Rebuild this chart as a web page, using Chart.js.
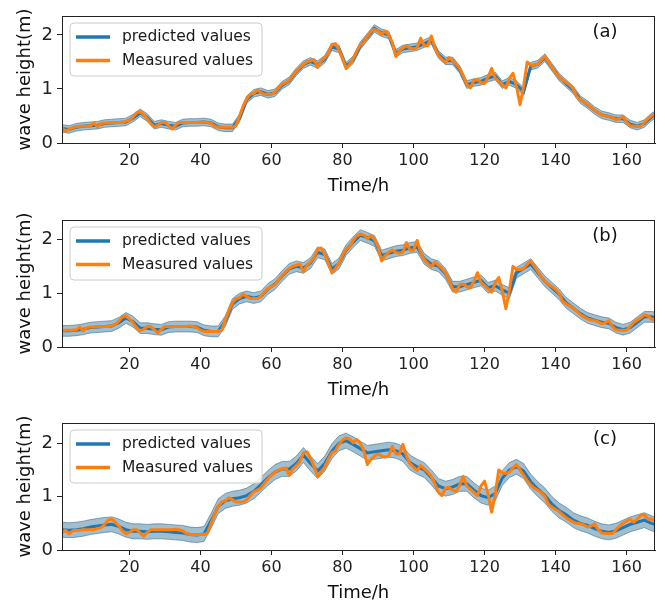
<!DOCTYPE html>
<html><head><meta charset="utf-8">
<script src="https://cdn.jsdelivr.net/npm/chart.js@4.4.1/dist/chart.umd.min.js"></script>
<style>
html,body{margin:0;padding:0;background:#fff;}
#wrap{position:relative;width:665px;height:602px;overflow:hidden;background:#fff;}
canvas{position:absolute;left:0;}
</style></head><body>
<div id="wrap">
<canvas id="cA" width="665" height="200" style="top:0px"></canvas>
<canvas id="cB" width="665" height="200" style="top:204px"></canvas>
<canvas id="cC" width="665" height="200" style="top:407px"></canvas>
</div>
<script>
const seriesLabels = ['predicted values', 'Measured values'];
const panelTags = ['(a)', '(b)', '(c)'];
const xTitle = 'Time/h';
const yTitle = 'wave height(m)';
const xTicks = [20, 40, 60, 80, 100, 120, 140, 160];
const yTicks = [0, 1, 2];

const hours = [1,2,3,4,5,6,7,8,9,10,11,12,13,14,15,16,17,18,19,20,
21,22,23,24,25,26,27,28,29,30,31,32,33,34,35,36,37,38,39,40,
41,42,43,44,45,46,47,48,49,50,51,52,53,54,55,56,57,58,59,60,
61,62,63,64,65,66,67,68,69,70,71,72,73,74,75,76,77,78,79,80,
81,82,83,84,85,86,87,88,89,90,91,92,93,94,95,96,97,98,99,100,
101,102,103,104,105,106,107,108,109,110,111,112,113,114,115,116,117,118,119,120,
121,122,123,124,125,126,127,128,129,130,131,132,133,134,135,136,137,138,139,140,
141,142,143,144,145,146,147,148,149,150,151,152,153,154,155,156,157,158,159,160,
161,162,163,164,165,166,167,168];

const predHours = [1,3,5,7,9,11,13,15,17,19,21,23,25,27,29,31,33,35,37,39,
41,43,45,47,49,51,53,55,57,59,61,63,65,67,69,71,73,75,77,79,
81,83,85,87,89,91,93,95,97,99,101,103,105,107,109,111,113,115,117,119,
121,123,125,127,129,131,133,135,137,139,141,143,145,147,149,151,153,155,157,159,
161,163,165,167,168];

// ---- panel (a) ----
const measuredA = [0.28,0.22,0.25,0.28,0.30,0.31,0.31,0.31,0.32,0.37,
0.30,0.36,0.37,0.37,0.38,0.38,0.38,0.38,0.40,0.42,
0.48,0.56,0.58,0.52,0.45,0.36,0.30,0.33,0.38,0.38,
0.32,0.26,0.33,0.38,0.38,0.38,0.38,0.38,0.38,0.38,
0.39,0.38,0.36,0.31,0.29,0.29,0.29,0.29,0.29,0.32,
0.50,0.68,0.82,0.90,0.92,0.98,0.94,0.90,0.90,0.90,
0.94,1.02,1.09,1.12,1.16,1.25,1.33,1.40,1.46,1.50,
1.52,1.54,1.40,1.52,1.58,1.66,1.82,1.84,1.72,1.56,
1.38,1.46,1.56,1.70,1.82,1.86,1.98,2.06,2.10,2.08,
2.01,2.07,2.00,1.86,1.60,1.70,1.76,1.80,1.76,1.74,
1.76,1.94,1.80,1.80,1.98,1.76,1.62,1.55,1.49,1.58,
1.52,1.46,1.38,1.24,1.08,1.02,1.16,1.17,1.12,1.10,
1.22,1.38,1.20,1.14,1.08,1.02,1.20,1.29,1.04,0.71,
1.05,1.50,1.44,1.44,1.46,1.54,1.60,1.50,1.40,1.30,
1.22,1.16,1.12,1.07,1.00,0.85,0.80,0.76,0.72,0.66,
0.60,0.56,0.52,0.50,0.49,0.47,0.43,0.45,0.49,0.38,
0.32,0.31,0.31,0.31,0.38,0.45,0.50,0.54];
const predictedA = [0.27,0.25,0.29,0.31,0.32,0.33,0.36,0.37,0.38,0.39,
0.46,0.56,0.47,0.33,0.36,0.33,0.31,0.37,0.38,0.38,
0.39,0.37,0.30,0.28,0.28,0.46,0.80,0.92,0.95,0.90,
0.93,1.07,1.15,1.32,1.45,1.51,1.45,1.55,1.78,1.74,
1.42,1.54,1.80,1.96,2.12,2.04,2.00,1.66,1.74,1.76,
1.78,1.84,1.90,1.64,1.52,1.52,1.36,1.08,1.12,1.14,
1.20,1.24,1.08,1.14,1.08,0.95,1.42,1.46,1.58,1.40,
1.22,1.10,0.98,0.80,0.71,0.60,0.52,0.49,0.45,0.45,
0.35,0.31,0.36,0.48,0.52];
const lowerA = [0.20,0.18,0.22,0.24,0.25,0.26,0.29,0.30,0.31,0.32,
0.39,0.49,0.40,0.26,0.29,0.26,0.24,0.30,0.31,0.31,
0.32,0.30,0.23,0.21,0.21,0.39,0.73,0.85,0.88,0.83,
0.86,1.00,1.08,1.25,1.38,1.44,1.38,1.48,1.71,1.67,
1.35,1.47,1.73,1.89,2.05,1.97,1.93,1.59,1.67,1.69,
1.71,1.77,1.83,1.57,1.45,1.45,1.29,1.01,1.05,1.07,
1.13,1.17,1.01,1.07,1.01,0.88,1.35,1.39,1.51,1.33,
1.15,1.03,0.91,0.73,0.64,0.53,0.45,0.42,0.38,0.38,
0.28,0.24,0.29,0.41,0.45];
const upperA = [0.34,0.32,0.36,0.38,0.39,0.40,0.43,0.44,0.45,0.46,
0.53,0.63,0.54,0.40,0.43,0.40,0.38,0.44,0.45,0.45,
0.46,0.44,0.37,0.35,0.35,0.53,0.87,0.99,1.02,0.97,
1.00,1.14,1.22,1.39,1.52,1.58,1.52,1.62,1.85,1.81,
1.49,1.61,1.87,2.03,2.19,2.11,2.07,1.73,1.81,1.83,
1.85,1.91,1.97,1.71,1.59,1.59,1.43,1.15,1.19,1.21,
1.27,1.31,1.15,1.21,1.15,1.02,1.49,1.53,1.65,1.47,
1.29,1.17,1.05,0.87,0.78,0.67,0.59,0.56,0.52,0.52,
0.42,0.38,0.43,0.55,0.59];

// ---- panel (b) ----
const measuredB = [0.30,0.31,0.31,0.31,0.32,0.37,0.30,0.36,0.37,0.37,
0.38,0.38,0.38,0.38,0.40,0.42,0.48,0.56,0.58,0.52,
0.45,0.36,0.30,0.33,0.38,0.38,0.32,0.26,0.33,0.38,
0.38,0.38,0.38,0.38,0.38,0.38,0.39,0.38,0.36,0.31,
0.29,0.29,0.29,0.29,0.29,0.32,0.50,0.68,0.82,0.90,
0.92,0.98,0.94,0.90,0.90,0.90,0.94,1.02,1.09,1.12,
1.16,1.25,1.33,1.40,1.46,1.50,1.52,1.54,1.40,1.52,
1.58,1.66,1.82,1.84,1.72,1.56,1.38,1.46,1.56,1.70,
1.82,1.86,1.98,2.06,2.10,2.08,2.01,2.07,2.00,1.86,
1.60,1.70,1.76,1.80,1.76,1.74,1.76,1.94,1.80,1.80,
1.98,1.76,1.62,1.55,1.49,1.58,1.52,1.46,1.38,1.24,
1.08,1.02,1.16,1.17,1.12,1.10,1.22,1.38,1.20,1.14,
1.08,1.02,1.20,1.29,1.04,0.71,1.05,1.50,1.44,1.44,
1.46,1.54,1.60,1.50,1.40,1.30,1.22,1.16,1.12,1.07,
1.00,0.85,0.80,0.76,0.72,0.66,0.60,0.56,0.52,0.50,
0.49,0.47,0.43,0.45,0.49,0.38,0.32,0.31,0.31,0.31,
0.38,0.45,0.50,0.54,0.60,0.58,0.52,0.50];
const predictedB = [0.30,0.30,0.31,0.33,0.36,0.37,0.38,0.39,0.45,0.54,
0.47,0.35,0.35,0.33,0.32,0.37,0.38,0.38,0.38,0.37,
0.31,0.29,0.29,0.48,0.80,0.90,0.94,0.91,0.94,1.08,
1.17,1.32,1.45,1.50,1.47,1.56,1.76,1.72,1.45,1.55,
1.80,1.95,2.08,2.03,1.97,1.70,1.74,1.78,1.80,1.84,
1.86,1.64,1.54,1.50,1.36,1.12,1.12,1.16,1.20,1.24,
1.10,1.14,1.06,1.00,1.38,1.46,1.54,1.38,1.22,1.10,
0.98,0.82,0.72,0.62,0.54,0.50,0.46,0.44,0.36,0.32,
0.36,0.46,0.56,0.56,0.55];
const lowerB = [0.20,0.20,0.21,0.23,0.26,0.27,0.28,0.29,0.35,0.44,
0.37,0.25,0.25,0.23,0.22,0.27,0.28,0.28,0.28,0.27,
0.21,0.19,0.19,0.38,0.70,0.80,0.84,0.81,0.84,0.98,
1.07,1.22,1.35,1.40,1.37,1.46,1.66,1.62,1.35,1.45,
1.70,1.85,1.98,1.93,1.87,1.60,1.64,1.68,1.70,1.74,
1.76,1.54,1.44,1.40,1.26,1.02,1.02,1.06,1.10,1.14,
1.00,1.04,0.96,0.90,1.28,1.36,1.44,1.28,1.12,1.00,
0.88,0.72,0.62,0.52,0.44,0.40,0.36,0.34,0.26,0.22,
0.26,0.36,0.46,0.46,0.45];
const upperB = [0.40,0.40,0.41,0.43,0.46,0.47,0.48,0.49,0.55,0.64,
0.57,0.45,0.45,0.43,0.42,0.47,0.48,0.48,0.48,0.47,
0.41,0.39,0.39,0.58,0.90,1.00,1.04,1.01,1.04,1.18,
1.27,1.42,1.55,1.60,1.57,1.66,1.86,1.82,1.55,1.65,
1.90,2.05,2.18,2.13,2.07,1.80,1.84,1.88,1.90,1.94,
1.96,1.74,1.64,1.60,1.46,1.22,1.22,1.26,1.30,1.34,
1.20,1.24,1.16,1.10,1.48,1.56,1.64,1.48,1.32,1.20,
1.08,0.92,0.82,0.72,0.64,0.60,0.56,0.54,0.46,0.42,
0.46,0.56,0.66,0.66,0.65];

// ---- panel (c) ----
const measuredC = [0.32,0.37,0.30,0.36,0.37,0.37,0.38,0.38,0.38,0.38,
0.40,0.42,0.48,0.56,0.58,0.52,0.45,0.36,0.30,0.33,
0.38,0.38,0.32,0.26,0.33,0.38,0.38,0.38,0.38,0.38,
0.38,0.38,0.39,0.38,0.36,0.31,0.29,0.29,0.29,0.29,
0.29,0.32,0.50,0.68,0.82,0.90,0.92,0.98,0.94,0.90,
0.90,0.90,0.94,1.02,1.09,1.12,1.16,1.25,1.33,1.40,
1.46,1.50,1.52,1.54,1.40,1.52,1.58,1.66,1.82,1.84,
1.72,1.56,1.38,1.46,1.56,1.70,1.82,1.86,1.98,2.06,
2.10,2.08,2.01,2.07,2.00,1.86,1.60,1.70,1.76,1.80,
1.76,1.74,1.76,1.94,1.80,1.80,1.98,1.76,1.62,1.55,
1.49,1.58,1.52,1.46,1.38,1.24,1.08,1.02,1.16,1.17,
1.12,1.10,1.22,1.38,1.20,1.14,1.08,1.02,1.20,1.29,
1.04,0.71,1.05,1.50,1.44,1.44,1.46,1.54,1.60,1.50,
1.40,1.30,1.22,1.16,1.12,1.07,1.00,0.85,0.80,0.76,
0.72,0.66,0.60,0.56,0.52,0.50,0.49,0.47,0.43,0.45,
0.49,0.38,0.32,0.31,0.31,0.31,0.38,0.45,0.50,0.54,
0.58,0.52,0.58,0.65,0.66,0.58,0.58,0.55];
const predictedC = [0.38,0.37,0.38,0.40,0.43,0.45,0.47,0.48,0.44,0.38,
0.35,0.35,0.34,0.35,0.35,0.34,0.33,0.32,0.29,0.28,
0.30,0.55,0.82,0.92,0.96,0.98,1.02,1.10,1.22,1.35,
1.46,1.52,1.52,1.62,1.78,1.62,1.48,1.62,1.85,2.00,
2.05,1.98,1.90,1.82,1.84,1.86,1.88,1.86,1.80,1.64,
1.56,1.50,1.36,1.20,1.15,1.18,1.24,1.24,1.12,1.02,
0.98,1.06,1.35,1.50,1.56,1.48,1.28,1.14,1.02,0.86,
0.74,0.66,0.56,0.50,0.46,0.40,0.35,0.33,0.36,0.42,
0.48,0.52,0.56,0.50,0.48];
const lowerC = [0.24,0.23,0.24,0.26,0.29,0.31,0.33,0.34,0.30,0.24,
0.21,0.21,0.20,0.21,0.21,0.20,0.19,0.18,0.15,0.14,
0.16,0.41,0.68,0.78,0.82,0.84,0.88,0.96,1.08,1.21,
1.32,1.38,1.38,1.48,1.64,1.48,1.34,1.48,1.71,1.86,
1.91,1.84,1.76,1.68,1.70,1.72,1.74,1.72,1.66,1.50,
1.42,1.36,1.22,1.06,1.01,1.04,1.10,1.10,0.98,0.88,
0.84,0.92,1.21,1.36,1.42,1.34,1.14,1.00,0.88,0.72,
0.60,0.52,0.42,0.36,0.32,0.26,0.21,0.19,0.22,0.28,
0.34,0.38,0.42,0.36,0.34];
const upperC = [0.52,0.51,0.52,0.54,0.57,0.59,0.61,0.62,0.58,0.52,
0.49,0.49,0.48,0.49,0.49,0.48,0.47,0.46,0.43,0.42,
0.44,0.69,0.96,1.06,1.10,1.12,1.16,1.24,1.36,1.49,
1.60,1.66,1.66,1.76,1.92,1.76,1.62,1.76,1.99,2.14,
2.19,2.12,2.04,1.96,1.98,2.00,2.02,2.00,1.94,1.78,
1.70,1.64,1.50,1.34,1.29,1.32,1.38,1.38,1.26,1.16,
1.12,1.20,1.49,1.64,1.70,1.62,1.42,1.28,1.16,1.00,
0.88,0.80,0.70,0.64,0.60,0.54,0.49,0.47,0.50,0.56,
0.62,0.66,0.70,0.64,0.62];

const yMaxA = 2.35, yMaxB = 2.36, yMaxC = 2.38;

const FONT = "'DejaVu Sans', sans-serif";
const BLUE = '#1f77b4', ORANGE = '#ff7f0e';
const BAND_FILL = 'rgba(31,100,140,0.42)';
const BAND_EDGE = 'rgba(31,90,130,0.5)';

function pts(xs, ys) { return xs.map((x, i) => ({ x: x, y: ys[i] })); }

const framePlugin = {
  id: 'frame',
  afterDatasetsDraw(chart) {
    const { ctx, chartArea: ca } = chart;
    ctx.save();
    ctx.strokeStyle = '#222';
    ctx.lineWidth = 1;
    ctx.strokeRect(Math.round(ca.left) + 0.5, Math.round(ca.top) + 0.5,
      Math.round(ca.right - ca.left) - 1, Math.round(ca.bottom - ca.top));
    ctx.restore();
  }
};

const innerLegend = {
  id: 'innerLegend',
  afterDraw(chart, args, opts) {
    const { ctx, chartArea: ca } = chart;
    const x = ca.left + 8, y = ca.top + 7, w = 192, h = 53, r = 4;
    ctx.save();
    ctx.beginPath();
    ctx.moveTo(x + r, y);
    ctx.arcTo(x + w, y, x + w, y + h, r);
    ctx.arcTo(x + w, y + h, x, y + h, r);
    ctx.arcTo(x, y + h, x, y, r);
    ctx.arcTo(x, y, x + w, y, r);
    ctx.closePath();
    ctx.fillStyle = 'rgba(255,255,255,0.8)';
    ctx.fill();
    ctx.strokeStyle = '#cccccc';
    ctx.lineWidth = 1;
    ctx.stroke();
    const entries = [
      { text: seriesLabels[0], color: BLUE, dy: 14 },
      { text: seriesLabels[1], color: ORANGE, dy: 37.5 }
    ];
    ctx.font = '15.5px ' + FONT;
    ctx.textBaseline = 'middle';
    ctx.textAlign = 'left';
    entries.forEach(e => {
      ctx.strokeStyle = e.color;
      ctx.lineWidth = 3.5;
      ctx.beginPath();
      ctx.moveTo(x + 6, y + e.dy);
      ctx.lineTo(x + 40, y + e.dy);
      ctx.stroke();
      ctx.fillStyle = '#1a1a1a';
      ctx.fillText(e.text, x + 52, y + e.dy);
    });
    // panel tag
    ctx.font = '18px ' + FONT;
    ctx.textAlign = 'center';
    ctx.fillStyle = '#111';
    ctx.fillText(opts.tag || '', ca.right - 50, ca.top + 16);
    ctx.restore();
  }
};

function makePanel(id, tag, meas, pred, lo, hi, yMax) {
  return new Chart(document.getElementById(id), {
    type: 'line',
    data: {
      datasets: [
        { label: seriesLabels[1], data: pts(hours, meas), borderColor: ORANGE, borderWidth: 3,
          pointRadius: 0, fill: false, tension: 0, borderJoinStyle: 'round' },
        { label: seriesLabels[0], data: pts(predHours, pred), borderColor: BLUE, borderWidth: 3,
          pointRadius: 0, fill: false, tension: 0 },
        { label: 'upper', data: pts(predHours, hi), borderColor: BAND_EDGE, borderWidth: 1,
          pointRadius: 0, fill: '+1', backgroundColor: BAND_FILL, tension: 0 },
        { label: 'lower', data: pts(predHours, lo), borderColor: BAND_EDGE, borderWidth: 1,
          pointRadius: 0, fill: false, tension: 0 }
      ]
    },
    options: {
      responsive: false,
      animation: false,
      devicePixelRatio: 1,
      layout: { padding: { top: 16, right: 10, left: 0, bottom: 0 } },
      plugins: { legend: { display: false }, tooltip: { enabled: false }, innerLegend: { tag: tag } },
      scales: {
        x: {
          type: 'linear', min: 1, max: 168,
          afterBuildTicks: s => { s.ticks = xTicks.map(v => ({ value: v })); },
          afterFit: s => { s.height = 57; },
          ticks: { font: { family: FONT, size: 16 }, color: '#222', padding: 3, maxRotation: 0, autoSkip: false },
          grid: { drawOnChartArea: false, drawTicks: true, tickLength: 5, color: '#222' },
          border: { display: true, color: '#222', width: 1 },
          title: { display: true, text: xTitle, font: { family: FONT, size: 18 }, color: '#111',
                   padding: { top: 0, bottom: 3 } }
        },
        y: {
          min: 0, max: yMax,
          afterBuildTicks: s => { s.ticks = yTicks.map(v => ({ value: v })); },
          afterFit: s => { s.width = 62; },
          ticks: { font: { family: FONT, size: 18 }, color: '#222', padding: 4 },
          grid: { drawOnChartArea: false, drawTicks: true, tickLength: 5, color: '#222' },
          border: { display: true, color: '#222', width: 1 },
          title: { display: true, text: yTitle, font: { family: FONT, size: 18 }, color: '#111',
                   padding: { top: 15, bottom: 0 } }
        }
      }
    },
    plugins: [framePlugin, innerLegend]
  });
}

makePanel('cA', panelTags[0], measuredA, predictedA, lowerA, upperA, yMaxA);
makePanel('cB', panelTags[1], measuredB, predictedB, lowerB, upperB, yMaxB);
makePanel('cC', panelTags[2], measuredC, predictedC, lowerC, upperC, yMaxC);
</script>
</body></html>
